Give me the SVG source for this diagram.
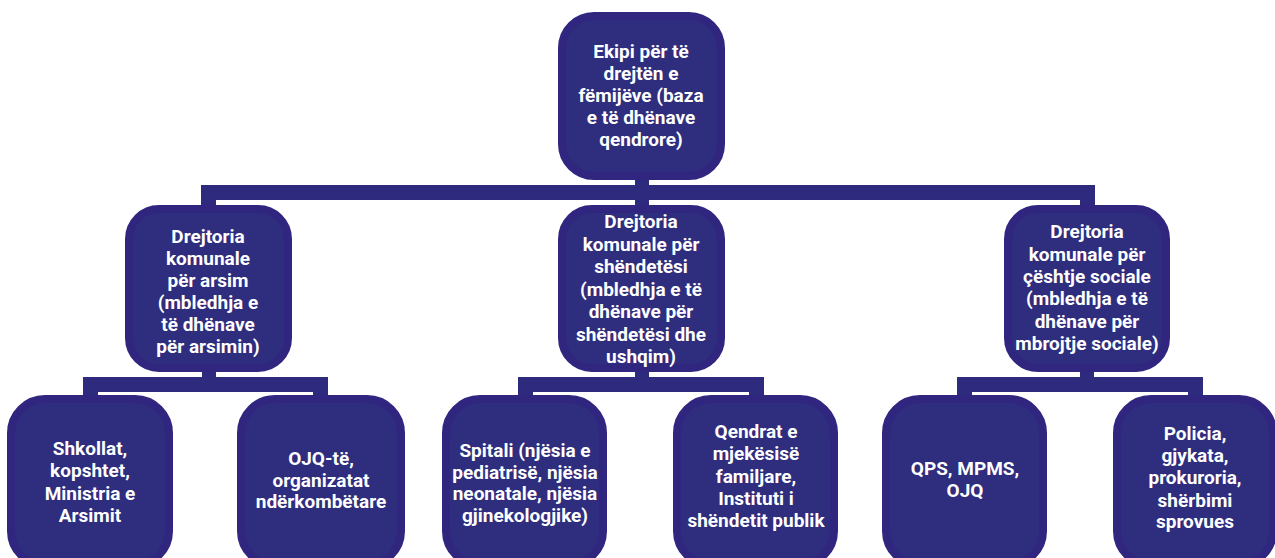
<svg xmlns="http://www.w3.org/2000/svg" width="1275" height="558" viewBox="0 0 1275 558">
<style>
.box{fill:#2e2d7e;stroke:#30267f;stroke-width:8}
.conn{fill:#2e2a7e}
text{font-family:Roboto,"Noto Sans",sans-serif;font-weight:bold;font-size:19px;fill:#ffffff;text-anchor:middle}
</style>
<rect width="1275" height="558" fill="#ffffff"/>
<g id="connectors">
<rect class="conn" x="635" y="178" width="14" height="30"/>
<rect class="conn" x="201" y="185" width="894" height="15" rx="4"/>
<rect class="conn" x="201" y="185" width="15" height="24"/>
<rect class="conn" x="1080" y="185" width="15" height="24"/>
<rect class="conn" x="83" y="377" width="245" height="15" rx="4"/>
<rect class="conn" x="83" y="377" width="15" height="22"/>
<rect class="conn" x="313" y="377" width="15" height="22"/>
<rect class="conn" x="202" y="368" width="14" height="12"/>
<rect class="conn" x="518" y="377" width="246" height="15" rx="4"/>
<rect class="conn" x="518" y="377" width="15" height="22"/>
<rect class="conn" x="749" y="377" width="15" height="22"/>
<rect class="conn" x="635" y="368" width="14" height="12"/>
<rect class="conn" x="957" y="377" width="246" height="15" rx="4"/>
<rect class="conn" x="957" y="377" width="15" height="22"/>
<rect class="conn" x="1188" y="377" width="15" height="22"/>
<rect class="conn" x="1080" y="368" width="14" height="12"/>
</g>
<g id="n0">
<rect class="box" x="562" y="16" width="159" height="160" rx="32"/>
<text x="641" y="58">Ekipi për të</text>
<text x="641" y="80">drejtën e</text>
<text x="641" y="102">fëmijëve (baza</text>
<text x="641" y="124">e të dhënave</text>
<text x="641" y="146">qendrore)</text>
</g>
<g id="n1">
<rect class="box" x="129" y="209" width="159" height="159" rx="30"/>
<text x="208" y="243">Drejtoria</text>
<text x="208" y="265">komunale</text>
<text x="208" y="287">për arsim</text>
<text x="208" y="309">(mbledhja e</text>
<text x="208" y="331">të dhënave</text>
<text x="208" y="353">për arsimin)</text>
</g>
<g id="n2">
<rect class="box" x="562" y="209" width="159" height="159" rx="30"/>
<text x="641" y="228">Drejtoria</text>
<text x="641" y="250.5">komunale për</text>
<text x="641" y="273">shëndetësi</text>
<text x="641" y="295.5">(mbledhja e të</text>
<text x="641" y="318">dhënave për</text>
<text x="641" y="340.5">shëndetësi dhe</text>
<text x="641" y="363">ushqim)</text>
</g>
<g id="n3">
<rect class="box" x="1008" y="209" width="158" height="159" rx="30"/>
<text x="1087" y="238">Drejtoria</text>
<text x="1087" y="260.5">komunale për</text>
<text x="1087" y="283">çështje sociale</text>
<text x="1087" y="305">(mbledhja e të</text>
<text x="1087" y="327.5">dhënave për</text>
<text x="1087" y="350">mbrojtje sociale)</text>
</g>
<g id="n4">
<rect class="box" x="11" y="399" width="158" height="166" rx="34"/>
<text x="90" y="455">Shkollat,</text>
<text x="90" y="477">kopshtet,</text>
<text x="90" y="500">Ministria e</text>
<text x="90" y="522">Arsimit</text>
</g>
<g id="n5">
<rect class="box" x="241" y="399" width="160" height="166" rx="34"/>
<text x="321" y="465">OJQ-të,</text>
<text x="321" y="487">organizatat</text>
<text x="321" y="508">ndërkombëtare</text>
</g>
<g id="n6">
<rect class="box" x="446" y="399" width="157" height="166" rx="34"/>
<text x="525" y="457">Spitali (njësia e</text>
<text x="525" y="478.5">pediatrisë, njësia</text>
<text x="525" y="500">neonatale, njësia</text>
<text x="525" y="522">gjinekologjike)</text>
</g>
<g id="n7">
<rect class="box" x="677" y="399" width="157" height="166" rx="34"/>
<text x="756" y="438">Qendrat e</text>
<text x="756" y="460">mjekësisë</text>
<text x="756" y="483">familjare,</text>
<text x="756" y="505">Instituti i</text>
<text x="756" y="527">shëndetit publik</text>
</g>
<g id="n8">
<rect class="box" x="886" y="399" width="157" height="166" rx="34"/>
<text x="965" y="475">QPS, MPMS,</text>
<text x="965" y="497">OJQ</text>
</g>
<g id="n9">
<rect class="box" x="1117" y="399" width="156" height="166" rx="34"/>
<text x="1195" y="440">Policia,</text>
<text x="1195" y="462">gjykata,</text>
<text x="1195" y="484">prokuroria,</text>
<text x="1195" y="507">shërbimi</text>
<text x="1195" y="528">sprovues</text>
</g>
</svg>
